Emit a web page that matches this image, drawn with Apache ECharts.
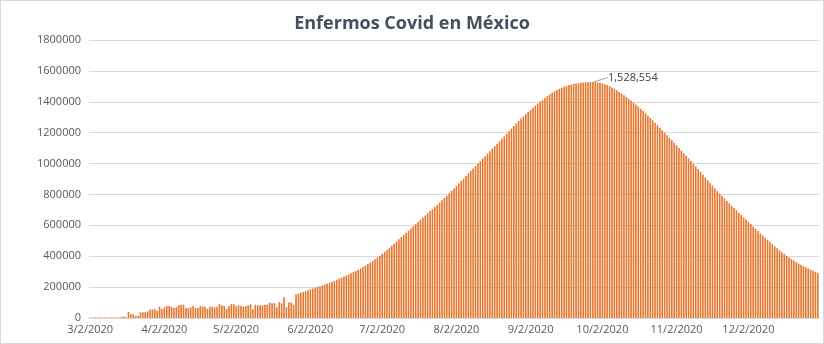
<!DOCTYPE html>
<html>
<head>
<meta charset="utf-8">
<script src="https://cdn.jsdelivr.net/npm/echarts@6/dist/echarts.min.js"></script>
<style>
  html, body { margin: 0; padding: 0; background: #fff; }
  #chart { width: 822px; height: 342px; border: 1px solid #D9D9D9; }
</style>
</head>
<body>
<div id="chart"></div>
<script>
// Daily sick count, 2 Mar 2020 – 31 Dec 2020
const startDate = [2020, 3, 2];
const dayCount = 305;

const sickEarly = [
  3000, 3000, 4000, 3000, 4000, 3000, 4000, 3000, 3000, 4000,
  4000, 5000, 4000, 6000, 9000, 5000, 39000, 25000, 24000, 14000,
  15000, 37000, 38000, 38000, 43000, 55000, 56000, 56000, 47000, 75000,
  58000, 70000, 79000, 77000, 73000, 64000, 73000, 82000, 86000, 86000,
  64000, 64000, 69000, 77000, 64000, 65000, 77000, 73000, 73000, 60000,
  73000, 73000, 69000, 73000, 90000, 82000, 77000, 60000, 77000, 90000,
  90000, 77000, 82000, 77000, 73000, 77000, 82000, 90000, 56000, 86000,
  82000, 82000, 82000, 86000, 86000, 99000, 95000, 95000, 70000, 103000,
  95000, 135000, 71000, 100000, 100000, 86000
];

const sickLater = [
  152000, 157000, 163000, 168000, 174000, 180000, 186000, 191000, 196000, 201000,
  206000, 211000, 216000, 222000, 228000, 234000, 240000, 247000, 254000, 261000,
  268000, 275000, 282000, 290000, 297000, 305000, 313000, 321000, 330000, 339000,
  349000, 359000, 369000, 380000, 392000, 403000, 415000, 428000, 441000, 454000,
  468000, 482000, 496000, 510000, 524000, 538000, 552000, 566000, 580000, 594000,
  608000, 622000, 636000, 650000, 664000, 678000, 692000, 705000, 719000, 733000,
  747000, 762000, 777000, 792000, 807000, 823000, 839000, 855000, 871000, 887000,
  903000, 920000, 936000, 952000, 968000, 984000, 1000000, 1016000, 1032000, 1048000,
  1064000, 1080000, 1096000, 1112000, 1128000, 1144000, 1160000, 1176000, 1193000, 1209000,
  1226000, 1243000, 1260000, 1276000, 1292000, 1306000, 1320000, 1334000, 1348000, 1362000,
  1375000, 1388000, 1401000, 1413000, 1425000, 1437000, 1448000, 1458000, 1467000, 1476000,
  1484000, 1491000, 1497000, 1503000, 1508000, 1512000, 1516000, 1519000, 1521000, 1523000,
  1525000, 1526000, 1527000, 1528000, 1528554, 1528000, 1526000, 1523000, 1519000, 1514000,
  1508000, 1501000, 1493000, 1484000, 1474000, 1464000, 1453000, 1442000, 1431000, 1419000,
  1407000, 1395000, 1382000, 1369000, 1355000, 1341000, 1326000, 1311000, 1296000, 1280000,
  1264000, 1248000, 1232000, 1216000, 1200000, 1184000, 1168000, 1152000, 1135000, 1118000,
  1101000, 1084000, 1067000, 1050000, 1033000, 1016000, 999000, 982000, 964000, 946000,
  928000, 910000, 892000, 874000, 856000, 839000, 822000, 806000, 790000, 774000,
  758000, 742000, 727000, 712000, 697000, 682000, 667000, 652000, 638000, 623000,
  608000, 593000, 578000, 563000, 548000, 534000, 520000, 506000, 492000, 478000,
  464000, 451000, 438000, 426000, 414000, 403000, 392000, 382000, 372000, 362000,
  353000, 344000, 336000, 328000, 320000, 313000, 306000, 299000, 292000
];

const sickValues = sickEarly.concat(sickLater);

const yTicks = { min: 0, max: 1800000, step: 200000 };

// Category labels in M/D/YYYY form
const dayLabels = [];
for (let k = 0; k < dayCount; k++) {
  const d = new Date(startDate[0], startDate[1] - 1, startDate[2] + k);
  dayLabels.push((d.getMonth() + 1) + '/' + d.getDate() + '/' + d.getFullYear());
}

const peakValue = Math.max.apply(null, sickValues);
const seriesData = sickValues.map(function (v) {
  if (v !== peakValue) return v;
  return {
    value: v,
    label: {
      show: true,
      position: 'top',
      color: '#404040',
      fontSize: 11,
      fontFamily: 'Open Sans',
      formatter: function (p) { return p.value.toLocaleString('en-US'); }
    },
    labelLine: { show: true, lineStyle: { color: '#A6A6A6', width: 1 } }
  };
});

const chart = echarts.init(document.getElementById('chart'), null, { renderer: 'canvas' });
chart.setOption({
  animation: false,
  title: {
    text: 'Enfermos Covid en México',
    left: 'center',
    top: 9,
    textStyle: {
      fontFamily: 'Open Sans',
      fontWeight: 'bold',
      fontSize: 18,
      color: '#44505F'
    }
  },
  grid: { left: 88, right: 4, top: 39, bottom: 25, containLabel: false },
  xAxis: {
    type: 'category',
    data: dayLabels,
    boundaryGap: true,
    axisLine: { show: true, lineStyle: { color: '#D9D9D9' } },
    axisTick: { show: false },
    axisLabel: {
      color: '#595959',
      fontFamily: 'Open Sans',
      fontSize: 11,
      margin: 6,
      interval: function (idx, val) { return val.split('/')[1] === '2'; }
    }
  },
  yAxis: {
    type: 'value',
    min: yTicks.min,
    max: yTicks.max,
    interval: yTicks.step,
    axisLine: { show: false },
    axisTick: { show: false },
    splitLine: { lineStyle: { color: '#D9D9D9' } },
    axisLabel: {
      color: '#595959',
      fontFamily: 'Open Sans',
      fontSize: 11,
      margin: 8,
      formatter: function (v) { return String(v); }
    }
  },
  series: [{
    type: 'bar',
    data: seriesData,
    barCategoryGap: '32%',
    itemStyle: { color: '#E6772F' },
    labelLayout: { dx: 40, dy: 6 }
  }]
});
</script>
</body>
</html>
